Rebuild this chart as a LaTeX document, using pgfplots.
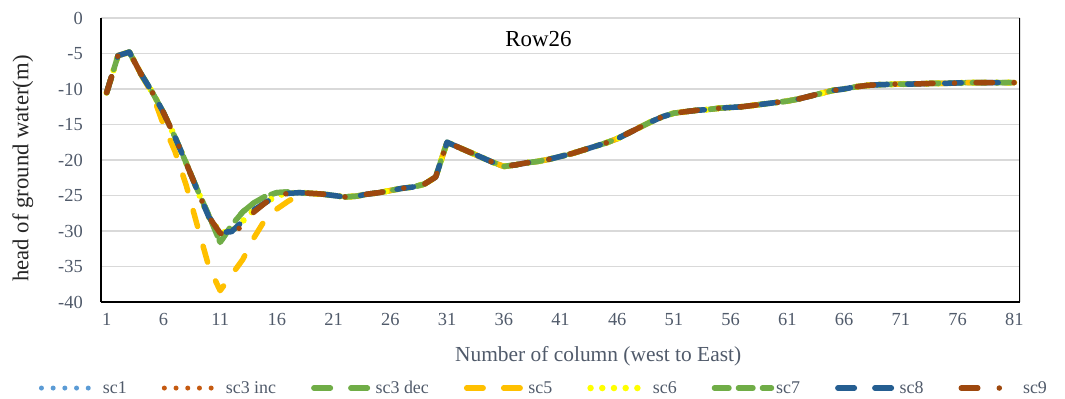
\documentclass[border=0pt]{standalone}
\usepackage{pgfplots}
\usepackage{pgfplotstable}
\pgfplotsset{compat=1.18}
\usepackage{fontspec}
\setmainfont{Liberation Serif}

\definecolor{cSone}{HTML}{5B9BD5}
\definecolor{cSinc}{HTML}{C55A11}
\definecolor{cSdec}{HTML}{70AD47}
\definecolor{cSfive}{HTML}{FFC000}
\definecolor{cSsix}{HTML}{FFFF00}
\definecolor{cSseven}{HTML}{70AD47}
\definecolor{cSeight}{HTML}{255E91}
\definecolor{cSnine}{HTML}{9E480E}
\definecolor{gridgray}{HTML}{D9D9D9}
\definecolor{tickgray}{HTML}{505A6A}
\definecolor{labeldark}{HTML}{262626}

% Groundwater head along row 26 (m).
% base  : sc1, sc3 inc, sc6, sc8
% green : sc3 dec, sc7
% gold  : sc5
% brown : sc9
\pgfplotstableread{
col  base   green  gold   brown
1   -10.5  -10.5  -10.5  -10.5
2   -5.3   -5.3   -5.3   -5.3
3   -4.8   -4.8   -4.8   -4.8
4   -7.8   -7.8   -7.9   -7.8
5   -10.4  -10.4  -10.6  -10.4
6   -13.3  -13.3  -15.0  -13.3
7   -16.7  -16.7  -18.7  -16.7
8   -20.4  -20.4  -23.5  -20.4
9   -24.3  -24.2  -29.3  -24.3
10  -28.0  -27.8  -35.0  -28.0
11  -30.2  -31.6  -38.4  -30.3
12  -30.1  -29.2  -36.2  -30.7
13  -28.6  -27.3  -34.0  -29.1
14  -27.0  -26.0  -30.9  -27.3
15  -26.0  -25.1  -28.3  -26.0
16  -25.0  -24.6  -26.9  -25.0
17  -24.7  -24.5  -25.8  -24.7
18  -24.6  -24.6  -24.9  -24.6
19  -24.7  -24.7  -24.7  -24.7
20  -24.8  -24.8  -24.8  -24.8
21  -25.0  -25.0  -25.0  -25.0
22  -25.2  -25.2  -25.2  -25.2
23  -25.1  -25.1  -25.1  -25.1
24  -24.8  -24.8  -24.8  -24.8
25  -24.6  -24.6  -24.6  -24.6
26  -24.3  -24.3  -24.3  -24.3
27  -24.0  -24.0  -24.0  -24.0
28  -23.8  -23.8  -23.8  -23.8
29  -23.4  -23.4  -23.4  -23.4
30  -22.4  -22.4  -22.4  -22.4
31  -17.5  -17.5  -17.5  -17.5
32  -18.2  -18.2  -18.2  -18.2
33  -18.9  -18.9  -18.9  -18.9
34  -19.6  -19.6  -19.6  -19.6
35  -20.3  -20.3  -20.3  -20.3
36  -20.9  -20.9  -20.9  -20.9
37  -20.7  -20.7  -20.7  -20.7
38  -20.4  -20.4  -20.4  -20.4
39  -20.2  -20.2  -20.2  -20.2
40  -19.9  -19.9  -19.9  -19.9
41  -19.5  -19.5  -19.5  -19.5
42  -19.1  -19.1  -19.1  -19.1
43  -18.6  -18.6  -18.6  -18.6
44  -18.1  -18.1  -18.1  -18.1
45  -17.6  -17.6  -17.6  -17.6
46  -17.0  -17.0  -17.0  -17.0
47  -16.2  -16.2  -16.2  -16.2
48  -15.4  -15.4  -15.4  -15.4
49  -14.6  -14.6  -14.6  -14.6
50  -13.9  -13.9  -13.9  -13.9
51  -13.4  -13.4  -13.4  -13.4
52  -13.2  -13.2  -13.2  -13.2
53  -13.0  -13.0  -13.0  -13.0
54  -12.9  -12.9  -12.9  -12.9
55  -12.7  -12.7  -12.7  -12.7
56  -12.6  -12.6  -12.6  -12.6
57  -12.5  -12.5  -12.5  -12.5
58  -12.3  -12.3  -12.3  -12.3
59  -12.1  -12.1  -12.1  -12.1
60  -11.9  -11.9  -11.9  -11.9
61  -11.7  -11.7  -11.7  -11.7
62  -11.4  -11.4  -11.4  -11.4
63  -11.0  -11.0  -11.0  -11.0
64  -10.6  -10.6  -10.6  -10.6
65  -10.2  -10.2  -10.2  -10.2
66  -10.0  -10.0  -10.0  -10.0
67  -9.7   -9.7   -9.7   -9.7
68  -9.5   -9.5   -9.5   -9.5
69  -9.4   -9.4   -9.4   -9.4
70  -9.35  -9.35  -9.35  -9.35
71  -9.3   -9.3   -9.3   -9.3
72  -9.3   -9.3   -9.3   -9.3
73  -9.25  -9.25  -9.25  -9.25
74  -9.2   -9.2   -9.2   -9.2
75  -9.2   -9.2   -9.2   -9.2
76  -9.15  -9.15  -9.15  -9.15
77  -9.1   -9.1   -9.1   -9.1
78  -9.1   -9.1   -9.1   -9.1
79  -9.1   -9.1   -9.1   -9.1
80  -9.1   -9.1   -9.1   -9.1
81  -9.1   -9.1   -9.1   -9.1
}\headrow

\begin{document}
\begin{tikzpicture}
\begin{axis}[
  at={(0,0)}, anchor=south west,
  scale only axis,
  width=919bp, height=284bp,
  xmin=0.5, xmax=81.5,
  ymin=-40, ymax=0,
  xtick={1,6,...,81},
  ytick={-40,-35,...,0},
  major tick length=0pt,
  tick style={draw=none},
  axis x line*=bottom,
  axis y line*=left,
  axis line style={black, line width=1.5bp},
  ymajorgrids,
  major grid style={draw=gridgray, line width=1.3bp},
  /pgf/number format/assume math mode=true,
  ticklabel style={font=\fontsize{18.5}{20}\selectfont, text=tickgray, inner sep=0pt},
  xticklabel style={anchor=north, yshift=-11bp},
  yticklabel style={anchor=east, xshift=-18bp},
  xlabel={Number of column (west to East)},
  xlabel style={at={(axis description cs:0.541,-0.211)}, anchor=base,
    font=\fontsize{21.5}{24}\selectfont, text=tickgray, inner sep=0pt},
  ylabel={head of ground water(m)},
  ylabel style={at={(axis description cs:-0.085,0.47)}, anchor=center,
    font=\fontsize{22.8}{25}\selectfont, text=labeldark, inner sep=0pt},
  every axis plot/.append style={line cap=round, line join=round, no marks},
  legend columns=8,
  legend image code/.code={\draw[#1] (0bp,0bp) -- (57bp,0bp);},
  legend style={at={(axis description cs:0.482,-0.303)}, anchor=center,
    draw=none, fill=none, font=\fontsize{18}{20}\selectfont, text=tickgray,
    nodes={inner sep=2bp},
    /tikz/every even column/.append style={column sep=33bp}},
]
\addplot[draw=cSone, line width=5bp, dash pattern=on 0bp off 11.7bp]
  table[x=col, y=base] {\headrow};
\addlegendentry{sc1}
\addplot[draw=cSinc, line width=5bp, dash pattern=on 0bp off 11.7bp]
  table[x=col, y=base] {\headrow};
\addlegendentry{sc3 inc}
\addplot[draw=cSdec, line width=5.5bp, dash pattern=on 16.5bp off 20.5bp]
  table[x=col, y=green] {\headrow};
\addlegendentry{sc3 dec}
\addplot[draw=cSfive, line width=5.5bp, dash pattern=on 16.5bp off 20.5bp]
  table[x=col, y=gold] {\headrow};
\addlegendentry{sc5}
\addplot[draw=cSsix, line width=6.5bp, dash pattern=on 0bp off 11.7bp]
  table[x=col, y=base] {\headrow};
\addlegendentry{sc6}
\addplot[draw=cSseven, line width=5.5bp, dash pattern=on 14.5bp off 9.5bp]
  table[x=col, y=green] {\headrow};
\addlegendentry{sc7}
\addplot[draw=cSeight, line width=5.5bp, dash pattern=on 16.5bp off 20.5bp]
  table[x=col, y=base] {\headrow};
\addlegendentry{sc8}
\addplot[draw=cSnine, line width=5.5bp, dash pattern=on 16.5bp off 21.5bp on 0bp off 21.5bp]
  table[x=col, y=brown] {\headrow};
\addlegendentry{sc9}

% right-hand frame line
\draw[black, line width=1.5bp] (rel axis cs:1,0) -- (rel axis cs:1,1);
\node[anchor=base, font=\fontsize{23}{26}\selectfont, text=black, inner sep=0pt]
  at (axis description cs:0.476,0.901) {Row26};
\coordinate (axsw) at (rel axis cs:0,0);
\end{axis}
\pgfresetboundingbox
\path (axsw) ++(-101bp,-97bp) rectangle ++(1065bp,399bp);
\end{tikzpicture}
\end{document}
